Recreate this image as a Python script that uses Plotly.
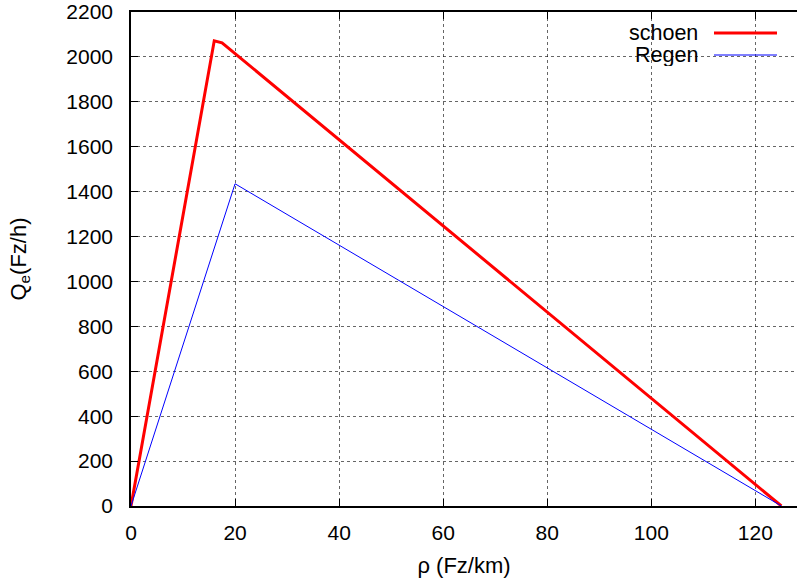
import plotly.graph_objects as go

schoen_x = [0, 16, 17.5, 125]
schoen_y = [0, 2072, 2063, 0]
regen_x = [0, 20, 125]
regen_y = [0, 1435, 0]
series_names = ["schoen", "Regen"]
x_ticks = [0, 20, 40, 60, 80, 100, 120]
y_ticks = list(range(0, 2201, 200))

FONT = "Liberation Sans, Arial, sans-serif"

W, H = 797, 585
ml, mr, mt, mb = 131, 0, 12, 79
pw, ph = W - ml - mr, H - mt - mb

def px(xp):
    return (xp - ml) / pw

def py(yp):
    return 1 - (yp - mt) / ph

fig = go.Figure()
fig.add_trace(go.Scatter(x=schoen_x, y=schoen_y, mode="lines", name=series_names[0],
                         line=dict(color="#ff0000", width=3), showlegend=False))
fig.add_trace(go.Scatter(x=regen_x, y=regen_y, mode="lines", name=series_names[1],
                         line=dict(color="#0000ff", width=1), showlegend=False))

# gnuplot-style legend: text right-aligned, sample line to the right
legend_rows = [(series_names[0], "#ff0000", 3, 33), (series_names[1], "#0000ff", 1, 55)]
for name, col, w, yp in legend_rows:
    fig.add_annotation(x=px(699), y=py(yp), xref="paper", yref="paper", text=name,
                       showarrow=False, xanchor="right", yanchor="middle", height=22,
                       valign="middle", borderpad=0,
                       font=dict(family=FONT, size=21.5, color="black"))
    fig.add_shape(type="line", xref="paper", yref="paper", x0=px(714), x1=px(777),
                  y0=py(yp), y1=py(yp), line=dict(color=col, width=w))

axis_common = dict(showline=True, linecolor="black", linewidth=1.5, ticks="inside",
                   ticklen=7, tickcolor="black", showgrid=True, gridcolor="rgba(0,0,0,0.6)",
                   griddash="dot", gridwidth=1, zeroline=False, ticklabeloverflow="allow",
                   automargin=False,
                   tickfont=dict(family=FONT, size=21, color="black"))

fig.update_xaxes(range=[0, 128], tickvals=x_ticks, mirror="ticks", ticklabelstandoff=7,
                 title=dict(text="ρ (Fz/km)", font=dict(family=FONT, size=22, color="black"), standoff=15),
                 **axis_common)
fig.update_yaxes(range=[0, 2200], tickvals=y_ticks, ticklabelstandoff=12,
                 title=dict(text="Q<sub>e</sub>(Fz/h)", font=dict(family=FONT, size=22, color="black"), standoff=34),
                 **axis_common)

fig.update_layout(width=W, height=H, margin=dict(l=ml, r=mr, t=mt, b=mb, autoexpand=False),
                  plot_bgcolor="white", paper_bgcolor="white", showlegend=False)

fig.write_html("out.html", config={"displayModeBar": False},
               post_script="document.body.style.margin='0';")
